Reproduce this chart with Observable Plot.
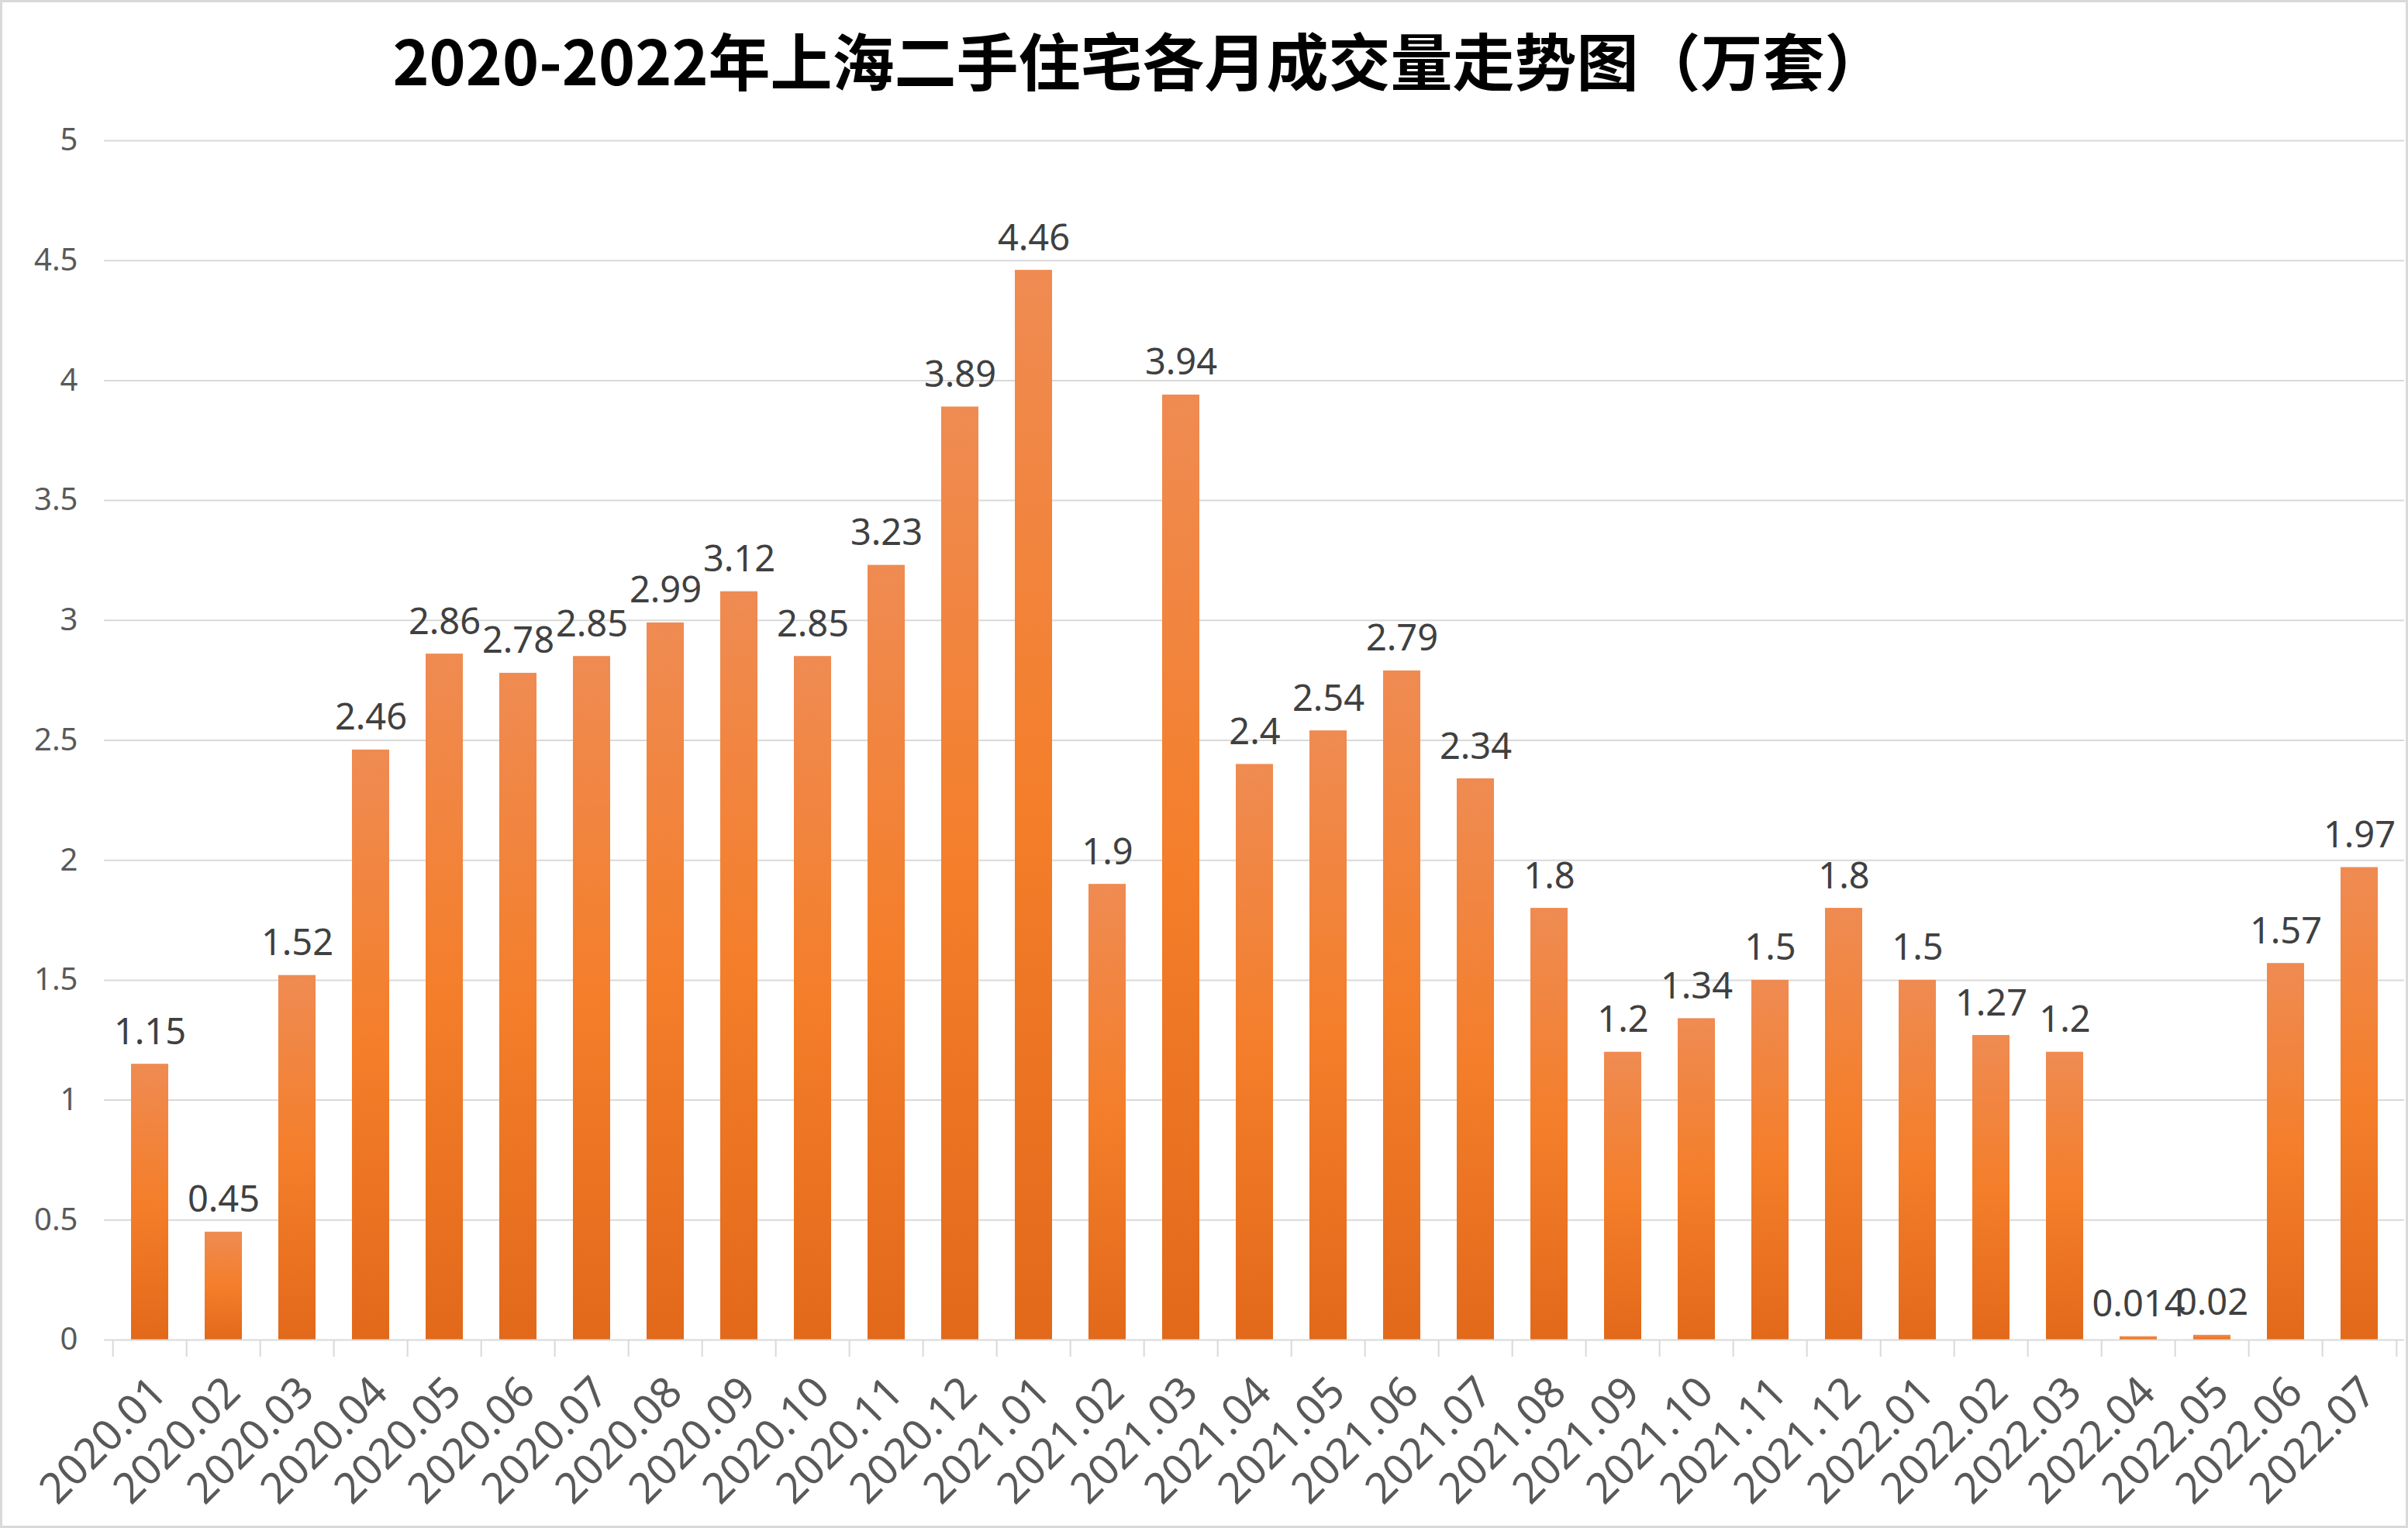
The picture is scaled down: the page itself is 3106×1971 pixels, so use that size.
<!DOCTYPE html>
<html>
<head>
<meta charset="utf-8">
<script src="https://cdn.jsdelivr.net/npm/d3@7"></script>
<script src="https://cdn.jsdelivr.net/npm/@observablehq/plot@0.6"></script>
<style>
  html, body { margin: 0; padding: 0; background: #fff; }
  #wrap { position: relative; width: 3106px; height: 1971px; overflow: hidden; background: #fff; }
  #border { position: absolute; left: 0; top: 0; width: 3106px; height: 1971px; box-sizing: border-box; border: 3px solid #d9d9d9; pointer-events: none; }
  #title { width: 2940px; height: 150px; line-height: 150px; text-align: center; font-family: "Noto Sans CJK SC", sans-serif; font-weight: 700; font-size: 80px; color: #000; white-space: nowrap; }
  svg { display: block; }
</style>
</head>
<body>
<div id="wrap">
  <div id="title">2020-2022年上海二手住宅各月成交量走势图（万套）</div>
  <div id="chart"></div>
  <div id="border"></div>
</div>
<script>
const months = [
  "2020.01","2020.02","2020.03","2020.04","2020.05","2020.06","2020.07","2020.08","2020.09","2020.10","2020.11","2020.12",
  "2021.01","2021.02","2021.03","2021.04","2021.05","2021.06","2021.07","2021.08","2021.09","2021.10","2021.11","2021.12",
  "2022.01","2022.02","2022.03","2022.04","2022.05","2022.06","2022.07"
];
const volumes = [
  1.15, 0.45, 1.52, 2.46, 2.86, 2.78, 2.85, 2.99, 3.12, 2.85, 3.23, 3.89,
  4.46, 1.9, 3.94, 2.4, 2.54, 2.79, 2.34, 1.8, 1.2, 1.34, 1.5, 1.8,
  1.5, 1.27, 1.2, 0.014, 0.02, 1.57, 1.97
];
const yTicks = [0, 0.5, 1, 1.5, 2, 2.5, 3, 3.5, 4, 4.5, 5];

const data = months.map((m, i) => ({month: m, value: volumes[i]}));

const W = 3106, H = 1821;
const mL = 134, mR = 5, mT = 31, mB = 243;
const step = (W - mL - mR) / months.length;

const chart = Plot.plot({
  width: W,
  height: H,
  marginLeft: mL,
  marginRight: mR,
  marginTop: mT,
  marginBottom: mB,
  style: {fontFamily: "'Noto Sans', sans-serif", background: "#fff"},
  x: {domain: months, paddingInner: 0.5, paddingOuter: 0.25, label: null},
  y: {domain: [0, 5], label: null},
  marks: [
    Plot.gridY(yTicks.filter(d => d > 0), {stroke: "#d9d9d9", strokeOpacity: 1, strokeWidth: 2}),
    Plot.axisY(yTicks, {tickSize: 0, tickPadding: 34, fontSize: 40, fill: "#595959", tickFormat: d => String(d), label: null}),
    Plot.barY(data, {x: "month", y: "value", fill: "url(#barGrad)", style: "filter:url(#barShadow)"}),
    Plot.ruleY([0], {stroke: "#d9d9d9", strokeWidth: 2}),
    Plot.axisX({tickSize: 22, text: null, dx: -step / 2, stroke: "#d9d9d9", strokeWidth: 2, label: null}),
    Plot.axisX({ticks: [months[months.length - 1]], tickSize: 22, text: null, dx: step / 2, stroke: "#d9d9d9", strokeWidth: 2, label: null}),
    Plot.axisX({tickSize: 0, tickPadding: 58, tickRotate: -45, fontSize: 55, fill: "#595959", dx: 12, label: null}),
    Plot.text(data, {x: "month", y: "value", text: d => String(d.value), lineAnchor: "bottom", dy: -26, fontSize: 47, fill: "#404040"})
  ]
});

const svg = d3.select(chart);
const defs = svg.insert("defs", ":first-child");
const g = defs.append("linearGradient").attr("id", "barGrad").attr("x1", 0).attr("y1", 0).attr("x2", 0).attr("y2", 1);
g.append("stop").attr("offset", "0%").attr("stop-color", "#ef8b52");
g.append("stop").attr("offset", "50%").attr("stop-color", "#f47e2a");
g.append("stop").attr("offset", "100%").attr("stop-color", "#e2691a");
const f = defs.append("filter").attr("id", "barShadow").attr("x", "-20%").attr("y", "-5%").attr("width", "140%").attr("height", "110%");
f.append("feDropShadow").attr("dx", 3).attr("dy", 0).attr("stdDeviation", 2).attr("flood-color", "#000").attr("flood-opacity", 0.25);

document.getElementById("chart").appendChild(chart);
</script>
</body>
</html>
